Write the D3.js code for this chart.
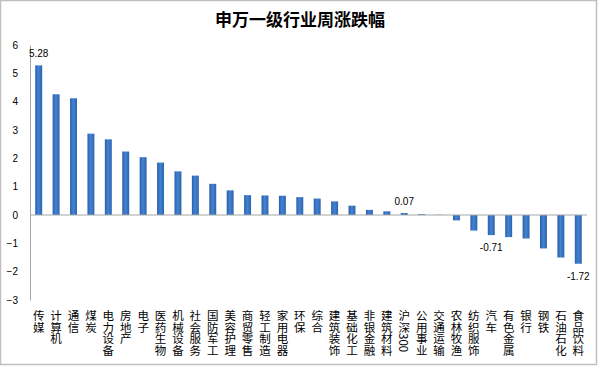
<!DOCTYPE html>
<html><head><meta charset="utf-8">
<script src="https://cdn.jsdelivr.net/npm/d3@7/dist/d3.min.js"></script>
<style>
body{margin:0;background:#fff;}
svg{display:block;font-family:"Noto Sans CJK SC","Liberation Sans",sans-serif;}
</style></head><body>
<svg id="c" width="600" height="368"></svg>
<script>
const categories = ["传媒","计算机","通信","煤炭","电力设备","房地产","电子","医药生物","机械设备","社会服务","国防军工","美容护理","商贸零售","轻工制造","家用电器","环保","综合","建筑装饰","基础化工","非银金融","建筑材料","沪深300","公用事业","交通运输","农林牧渔","纺织服饰","汽车","有色金属","银行","钢铁","石油石化","食品饮料"];
const values = [5.28,4.26,4.12,2.87,2.67,2.24,2.04,1.85,1.54,1.39,1.10,0.87,0.70,0.69,0.68,0.63,0.58,0.48,0.33,0.18,0.13,0.07,0.03,0.01,-0.19,-0.55,-0.71,-0.78,-0.83,-1.18,-1.50,-1.72];
const labelled = ["传媒","沪深300","汽车","食品饮料"];
const yTicks = [-3,-2,-1,0,1,2,3,4,5,6];
const title = "申万一级行业周涨跌幅";

const svg = d3.select("#c");
svg.append("rect").attr("x",0.5).attr("y",0.5).attr("width",596).attr("height",364)
  .attr("fill","#fff").attr("stroke","#bfbfbf").attr("stroke-width",1.5);

const defs = svg.append("defs");
const g1 = defs.append("linearGradient").attr("id","bg").attr("x1","0").attr("x2","1").attr("y1","0").attr("y2","0");
g1.append("stop").attr("offset","0").attr("stop-color","#2c5ea6");
g1.append("stop").attr("offset","0.45").attr("stop-color","#4283d4");
g1.append("stop").attr("offset","1").attr("stop-color","#2f64ad");

svg.append("text").attr("x",300).attr("y",26).attr("text-anchor","middle")
  .attr("font-size",17).attr("font-weight","bold").attr("fill","#000").text(title);

const x = d3.scaleBand().domain(categories).range([30,587]).paddingInner(0.6).paddingOuter(0.3);
const y = d3.scaleLinear().domain([-3,6]).range([300,45]);

// y axis
const ya = svg.append("g").attr("transform","translate(30,0)")
  .call(d3.axisLeft(y).tickValues(yTicks).tickSize(0).tickPadding(12).tickFormat(d3.format("d")));
ya.select(".domain").attr("stroke","#a6a6a6");
ya.selectAll("text").attr("font-family","Liberation Sans, Arial, sans-serif").attr("font-size",10).attr("fill","#000");

// bars
svg.append("g").selectAll("rect").data(categories).join("rect")
  .attr("x",d=>x(d)).attr("width",x.bandwidth())
  .attr("y",(d,i)=>y(Math.max(0,values[i])))
  .attr("height",(d,i)=>Math.abs(y(values[i])-y(0)))
  .attr("fill","url(#bg)");

// zero line
svg.append("line").attr("x1",30).attr("x2",587).attr("y1",y(0)).attr("y2",y(0))
  .attr("stroke","#a6a6a6").attr("stroke-width",1);

// data labels
svg.append("g").selectAll("text").data(categories.filter(c=>labelled.includes(c))).join("text")
  .attr("x",d=>x(d)+x.bandwidth()/2)
  .attr("y",d=>{const v=values[categories.indexOf(d)];return v>=0? y(v)-8 : y(v)+16;})
  .attr("text-anchor","middle").attr("font-family","Liberation Sans, Arial, sans-serif")
  .attr("font-size",10).attr("fill","#000")
  .text(d=>values[categories.indexOf(d)].toFixed(2));

// category labels (vertical)
svg.append("g").selectAll("text").data(categories).join("text")
  .attr("x",d=>x(d)+x.bandwidth()/2).attr("y",310)
  .attr("style","writing-mode: vertical-rl; glyph-orientation-vertical: auto;")
  .attr("font-size",11.5).attr("fill","#000")
  .text(d=>d);
</script>
</body></html>
